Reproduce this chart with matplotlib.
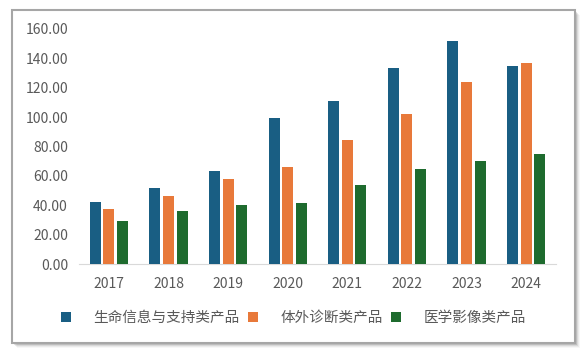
import matplotlib
matplotlib.use('Agg')
import matplotlib.pyplot as plt
from matplotlib.patches import Rectangle
import numpy as np

plt.rcParams['font.family'] = ['Noto Sans CJK SC', 'DejaVu Sans']

years = ['2017', '2018', '2019', '2020', '2021', '2022', '2023', '2024']
series_names = ['生命信息与支持类产品', '体外诊断类产品', '医学影像类产品']
life_support = [42.2, 51.7, 63.3, 99.4, 111.0, 133.4, 151.8, 134.8]
ivd = [37.4, 46.3, 57.9, 66.0, 84.4, 102.1, 123.9, 136.8]
imaging = [29.3, 36.1, 40.2, 41.5, 53.8, 64.7, 70.1, 74.9]
colors = ['#195E83', '#E8793A', '#1E6B2E']

fig = plt.figure(figsize=(5.87, 3.53), dpi=100)

# frame with soft shadow (behind the axes)
W, H = 587, 353
x0, y0, x1, y1 = 12, 10, 575, 343
for i, a in enumerate([0.14, 0.11, 0.08, 0.05, 0.03]):
    d = i + 1
    fig.patches.append(Rectangle(((x0 + d) / W, (H - y1 - d) / H), (x1 - x0) / W, (y1 - y0) / H,
                                 transform=fig.transFigure, facecolor='black', alpha=a,
                                 edgecolor='none', zorder=-3))
fig.patches.append(Rectangle((x0 / W, (H - y1) / H), (x1 - x0) / W, (y1 - y0) / H,
                             transform=fig.transFigure, facecolor='white',
                             edgecolor='#a6a6a6', linewidth=1.5, zorder=-2))

ax = fig.add_axes([79 / W, (H - 264) / H, (556 - 79) / W, (264 - 29) / H])
ax.set_facecolor('none')

x = np.arange(len(years))
w = 0.185
step = 0.228
for i, (vals, name) in enumerate(zip([life_support, ivd, imaging], series_names)):
    ax.bar(x + (i - 1) * step, vals, width=w, color=colors[i], label=name, zorder=3)

ax.set_xlim(-0.5, len(years) - 0.5)
ax.set_ylim(0, 160)
ax.set_yticks(np.arange(0, 161, 20))
ax.set_yticklabels([f'{v:.2f}' for v in np.arange(0, 161, 20)])
ax.set_xticks(x)
ax.set_xticklabels(years)
ax.tick_params(axis='both', length=0, labelsize=10, colors='#595959')
ax.tick_params(axis='x', pad=9)
ax.tick_params(axis='y', pad=8)
for s in ['top', 'right', 'left']:
    ax.spines[s].set_visible(False)
ax.spines['bottom'].set_color('#d9d9d9')

leg = fig.legend(loc='center', bbox_to_anchor=(0.5, (H - 318) / H), ncol=3, frameon=False,
                 fontsize=10.5, handlelength=0.65, handleheight=0.65,
                 handletextpad=1.55, columnspacing=0.6)
for t in leg.get_texts():
    t.set_color('#595959')

fig.savefig('out.png', dpi=100)
